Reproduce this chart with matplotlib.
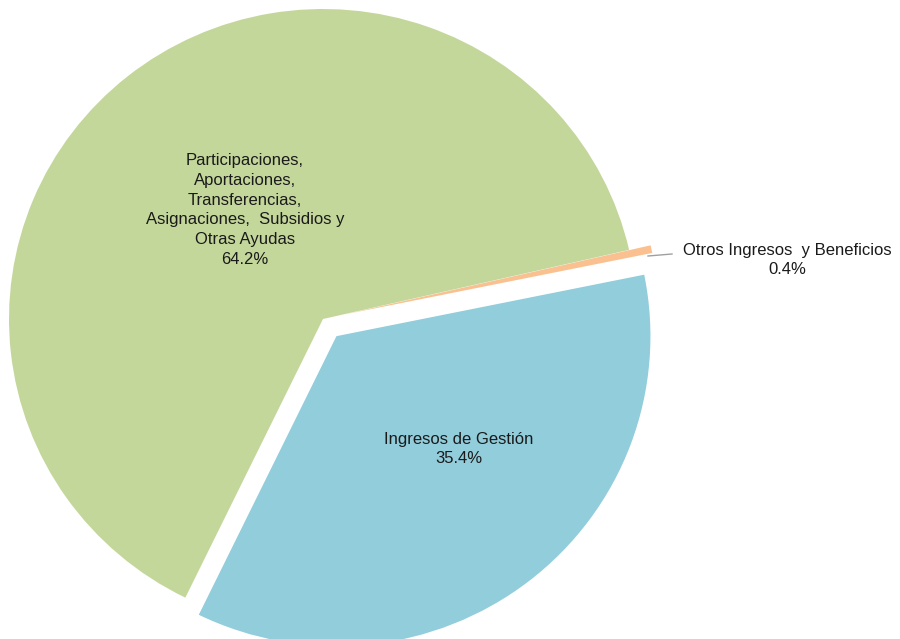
import matplotlib
matplotlib.use("Agg")
import matplotlib.pyplot as plt

labels = ["Ingresos de Gestión", "Otros Ingresos  y Beneficios",
          "Participaciones,\nAportaciones,\nTransferencias,\nAsignaciones,  Subsidios y\nOtras Ayudas"]
values = [35.4, 0.4, 64.2]
colors = ["#92CDDC", "#FAC090", "#C4D79B"]
explode = [0.07, 0.07, 0.0]

W, H = 900, 639
cx, cy, RX, RY = 323, 319, 314, 310  # pixel centre / radii of pie

fig = plt.figure(figsize=(9, 6.39), dpi=100)
ax = fig.add_axes([0, 0, 1, 1])
ax.pie(values, colors=colors, explode=explode, startangle=244.0,
       counterclock=True, radius=1.0,
       wedgeprops=dict(edgecolor="none"))
ax.set_xlim(-cx / RX, (W - cx) / RX)
ax.set_ylim(-(H - cy) / RY, cy / RY)
ax.set_aspect("auto")
ax.axis("off")

font = dict(family=["Liberation Sans", "DejaVu Sans"], fontsize=12, color="#1a1a1a",
            ha="center", va="center", linespacing=1.4)

def frac(px, py):
    return px / W, 1 - py / H

ax.text(*frac(245, 210), labels[2] + "\n%.1f%%" % values[2], transform=ax.transAxes, **font)
ax.text(*frac(459, 449), labels[0] + "\n%.1f%%" % values[0], transform=ax.transAxes, **font)
ax.text(*frac(787, 260), labels[1] + "\n%.1f%%" % values[1], transform=ax.transAxes, **font)
ax.plot([648 / W, 672 / W], [1 - 256 / H, 1 - 254 / H], transform=ax.transAxes,
        color="#a0a0a0", lw=1)

fig.savefig("out.png", dpi=100)
